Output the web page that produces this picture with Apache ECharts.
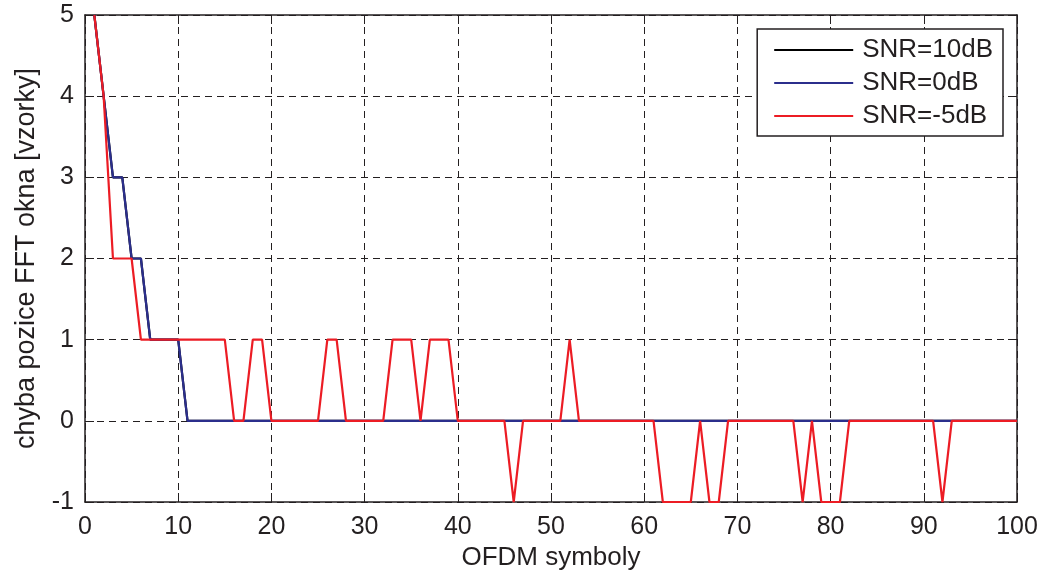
<!DOCTYPE html>
<html>
<head>
<meta charset="utf-8">
<script src="https://cdn.jsdelivr.net/npm/echarts@6/dist/echarts.min.js"></script>
<style>
    html, body { margin: 0; padding: 0; background: #fff; }
    #chart { width: 1041px; height: 571px; }
</style>
</head>
<body>
<div id="chart"></div>
<script>
// OFDM symbol index 1..100
const symbols = []
for (let i = 1; i <= 100; i++) symbols.push(i)

const snr10 = [
    5, 4, 3, 3, 2, 2, 1, 1, 1, 1,
    0, 0, 0, 0, 0, 0, 0, 0, 0, 0,
    0, 0, 0, 0, 0, 0, 0, 0, 0, 0,
    0, 0, 0, 0, 0, 0, 0, 0, 0, 0,
    0, 0, 0, 0, 0, 0, 0, 0, 0, 0,
    0, 0, 0, 0, 0, 0, 0, 0, 0, 0,
    0, 0, 0, 0, 0, 0, 0, 0, 0, 0,
    0, 0, 0, 0, 0, 0, 0, 0, 0, 0,
    0, 0, 0, 0, 0, 0, 0, 0, 0, 0,
    0, 0, 0, 0, 0, 0, 0, 0, 0, 0
]
const snr0 = [
    5, 4, 3, 3, 2, 2, 1, 1, 1, 1,
    0, 0, 0, 0, 0, 0, 0, 0, 0, 0,
    0, 0, 0, 0, 0, 0, 0, 0, 0, 0,
    0, 0, 0, 0, 0, 0, 0, 0, 0, 0,
    0, 0, 0, 0, 0, 0, 0, 0, 0, 0,
    0, 0, 0, 0, 0, 0, 0, 0, 0, 0,
    0, 0, 0, 0, 0, 0, 0, 0, 0, 0,
    0, 0, 0, 0, 0, 0, 0, 0, 0, 0,
    0, 0, 0, 0, 0, 0, 0, 0, 0, 0,
    0, 0, 0, 0, 0, 0, 0, 0, 0, 0
]
const snrMinus5 = [
    5, 4, 2, 2, 2, 1, 1, 1, 1, 1,
    1, 1, 1, 1, 1, 0, 0, 1, 1, 0,
    0, 0, 0, 0, 0, 1, 1, 0, 0, 0,
    0, 0, 1, 1, 1, 0, 1, 1, 1, 0,
    0, 0, 0, 0, 0, -1, 0, 0, 0, 0,
    0, 1, 0, 0, 0, 0, 0, 0, 0, 0,
    0, -1, -1, -1, -1, 0, -1, -1, 0, 0,
    0, 0, 0, 0, 0, 0, -1, 0, -1, -1,
    -1, 0, 0, 0, 0, 0, 0, 0, 0, 0,
    0, -1, 0, 0, 0, 0, 0, 0, 0, 0
]
const seriesNames = ['SNR=10dB', 'SNR=0dB', 'SNR=-5dB']
const seriesColors = ['#000000', '#2b2e8c', '#ec1c24']

const font = 'Liberation Sans, Arial, sans-serif'
const ink = '#231f20'

const pairs = (ys) => symbols.map((x, i) => [x, ys[i]])

const gridLine = { show: true, lineStyle: { color: ink, type: [7, 5], width: 1 } }

const chart = echarts.init(document.getElementById('chart'))
chart.setOption({
    animation: false,
    backgroundColor: '#fff',
    grid: { left: 85, right: 24, top: 15, bottom: 69, containLabel: false, outerBoundsMode: 'none' },
    legend: {
        orient: 'vertical',
        right: 38,
        top: 29,
        data: seriesNames,
        icon: 'rect',
        itemWidth: 79,
        itemHeight: 2,
        itemGap: 7,
        padding: [8, 10, 7, 17],
        borderColor: ink,
        borderWidth: 1.5,
        backgroundColor: '#fff',
        borderRadius: 0,
        textStyle: { fontFamily: font, fontSize: 26, color: ink, padding: [0, 0, 0, 4] }
    },
    xAxis: [
        {
            type: 'value',
            min: 0,
            max: 100,
            interval: 10,
            name: 'OFDM symboly',
            nameLocation: 'middle',
            nameGap: 42,
            nameTextStyle: { fontFamily: font, fontSize: 26, color: ink },
            axisLine: { show: true, onZero: false, lineStyle: { color: ink, width: 1.5 } },
            axisTick: { show: true, inside: true, length: 9, lineStyle: { color: ink } },
            axisLabel: { fontFamily: font, fontSize: 25, color: ink, margin: 13 },
            splitLine: gridLine
        },
        {
            type: 'value',
            position: 'top',
            min: 0,
            max: 100,
            interval: 10,
            axisLine: { show: true, onZero: false, lineStyle: { color: ink, width: 1.5 } },
            axisTick: { show: true, inside: true, length: 9, lineStyle: { color: ink } },
            axisLabel: { show: false },
            splitLine: { show: false }
        }
    ],
    yAxis: [
        {
            type: 'value',
            min: -1,
            max: 5,
            interval: 1,
            name: 'chyba pozice FFT okna [vzorky]',
            nameLocation: 'middle',
            nameGap: 45,
            nameTextStyle: { fontFamily: font, fontSize: 27, color: ink },
            axisLine: { show: true, onZero: false, lineStyle: { color: ink, width: 1.5 } },
            axisTick: { show: true, inside: true, length: 9, lineStyle: { color: ink } },
            axisLabel: { fontFamily: font, fontSize: 25, color: ink, margin: 11 },
            splitLine: gridLine
        },
        {
            type: 'value',
            position: 'right',
            min: -1,
            max: 5,
            interval: 1,
            axisLine: { show: true, onZero: false, lineStyle: { color: ink, width: 1.5 } },
            axisTick: { show: true, inside: true, length: 9, lineStyle: { color: ink } },
            axisLabel: { show: false },
            splitLine: { show: false }
        }
    ],
    series: [snr10, snr0, snrMinus5].map((ys, k) => ({
        name: seriesNames[k],
        type: 'line',
        data: pairs(ys),
        showSymbol: false,
        symbol: 'none',
        color: seriesColors[k],
        lineStyle: { color: seriesColors[k], width: 2.2 },
        z: 3 + k
    }))
})
</script>
</body>
</html>
